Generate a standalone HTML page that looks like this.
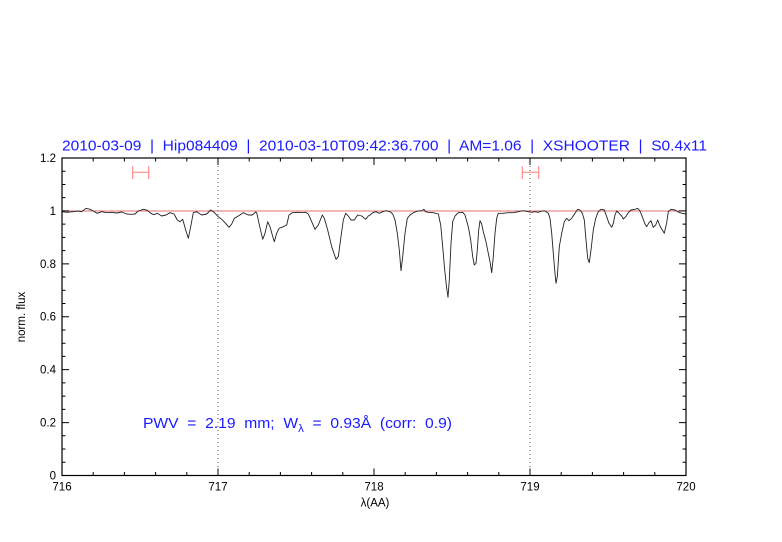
<!DOCTYPE html>
<html><head><meta charset="utf-8"><style>
html,body{margin:0;padding:0;background:#fff;}
svg{display:block;}
text{font-family:"Liberation Sans",sans-serif;}
.pre{white-space:pre;}
</style></head><body>
<svg width="782" height="542" viewBox="0 0 782 542" xmlns="http://www.w3.org/2000/svg" xml:space="preserve">
<rect width="782" height="542" fill="#fff"/>
<!-- title -->
<text class="pre" x="62" y="150.5" font-size="15" fill="#1a1aff" textLength="645" lengthAdjust="spacingAndGlyphs">2010-03-09  |  Hip084409  |  2010-03-10T09:42:36.700  |  AM=1.06  |  XSHOOTER  |  S0.4x11</text>
<!-- dotted lines -->
<line x1="218" y1="158" x2="218" y2="475.5" stroke="#444" stroke-width="0.9" stroke-dasharray="1,3"/>
<line x1="530" y1="158" x2="530" y2="475.5" stroke="#444" stroke-width="0.9" stroke-dasharray="1,3"/>
<!-- unity line -->
<line x1="62" y1="211" x2="686" y2="211" stroke="#e07070" stroke-width="1"/>
<!-- error bars -->
<g stroke="#ff8c8c" stroke-width="1.2" fill="none">
<path d="M132.7 172.3H148.7M132.7 166V179M148.7 166V179"/>
<path d="M522.3 172.3H538.7M522.3 166V179M538.7 166V179"/>
</g>
<!-- spectrum -->
<polyline fill="none" stroke="#222" stroke-width="0.9" stroke-linejoin="round" points="
62,211.7 66.7,212.3 73.3,211.7 78.3,211 81.7,211.7 86,208.3 90,209.3 93.3,211 97.3,213.3 101.7,211.7 106.7,212.7 111.7,212.3 116.7,213 121.7,212 126.7,214 131.7,214.3 135,214 138.3,211 143.3,209.3 147.3,210.3 150.7,213.3 154,214.7 157.3,213.3 161.7,216 166,215 170,212.7 174,214 177.3,220 180,221.7 182.7,219.3 185.7,230 188.3,238.3 190.7,226.7 193.3,212.7 196.7,211.7 201.7,215 206.7,214 210.7,210 214,212.3
218.3,216.7 221.7,219.3 225,222.7 229,227.3 231.7,224 234.3,218.3 238.3,216 243.3,212.7 248.3,215 252.3,215 255.7,212 256.7,212.7 259,223.3 262.7,239.3 265,233.3 267.7,221.7 270,226.7 272.3,235 274.3,241.7 276.7,233.3 279,228.3 283.3,226.7 286.7,225 289,215 292.3,212.7 298.3,212.3 302.3,212.7 305.7,212.3 308.3,214 311.7,221.7 315,229.3 318.3,225 322.3,215 324.3,218.3 327.7,230 331.7,246.7 336,259.3 338.3,256.7 341,236.7 343.3,220 345.7,213.3 348.3,216 351,220 354.3,220 357.7,215 361.7,216 365.7,219.3 368.3,216
370,215 372.7,212.7 376,211.7 379.3,213.3 382.7,211.7 386,210.7 390,211.7 392.7,214 395,220 397.3,233.3 399.3,250 401,270.7 402.7,256.7 405,233.3 407.3,218.3 410,215 413.3,212.7 418.3,211 421.7,210.7 424,209.3 425.3,211.7 428.3,212.3 433.3,212.7 438.3,214 440.7,225 442.7,246.7 444.7,270 446.7,288.3 448,297.3 449.3,280 451,243.3 452.7,221.7 455,216 458.3,212.7 462.7,212.3 465,215 468.3,226.7 470.7,240 472.7,256.7 474.3,265 476,263.3 477.3,250 478.7,230 480,220.7 481.7,224 483.3,231.7 486,241.7 488.3,253.3 490,261.7 491.7,272.7 493.3,256.7 495,233.3 496.7,218.3 498.3,213.3 503.3,213.3 508.3,212.7 513.3,212.7 518.3,211.7 523.3,210.7
525,211 528.3,211.7 531.7,212.3 535,211.7 538.3,212.3 541.7,211 545,211 548.3,213.3 550,218.3 551.7,233.3 553.3,253.3 555,273.3 556,283.3 557.3,276.7 559.3,246.7 561.7,233.3 564.3,221.7 566.7,218.3 569,220.7 571.7,218.3 575,213.3 577.7,209.3 580,210 582.3,213.3 584.3,220 586,240 587.7,258.3 589.3,262.7 591,250 593.3,230 595.7,218.3 598.3,211.7 601,209.3 604.3,210 606.7,216.7 609,223.3 611.7,227.3 613.3,223.3 615,215 616.7,211 619,213.3 621.7,216 623.3,219 625.7,216.7 628.3,212.7 631,210 635,209.3 637.7,208.3 640,211 642.3,216.7 645,224 646.7,226.7 649,222.7 651,220.7 653.3,227.3 655.7,225 657.7,220 660,226 662.3,230 664.3,233.3 666.7,222.7 668.3,211.7 671,209.3 675,210 677.7,211.7 680,212.7 682.3,213.3 686,214"/>
<!-- frame -->
<rect x="62" y="158" width="624" height="317.5" fill="none" stroke="#000" stroke-width="1.2"/>
<!-- ticks -->
<path stroke="#000" stroke-width="1" fill="none" d="
M62 475.5v-7M93.2 475.5v-3.5M124.4 475.5v-3.5M155.6 475.5v-3.5M186.8 475.5v-3.5M218 475.5v-7M249.2 475.5v-3.5M280.4 475.5v-3.5M311.6 475.5v-3.5M342.8 475.5v-3.5M374 475.5v-7M405.2 475.5v-3.5M436.4 475.5v-3.5M467.6 475.5v-3.5M498.8 475.5v-3.5M530 475.5v-7M561.2 475.5v-3.5M592.4 475.5v-3.5M623.6 475.5v-3.5M654.8 475.5v-3.5M686 475.5v-7
M62 158v7M93.2 158v3.5M124.4 158v3.5M155.6 158v3.5M186.8 158v3.5M218 158v7M249.2 158v3.5M280.4 158v3.5M311.6 158v3.5M342.8 158v3.5M374 158v7M405.2 158v3.5M436.4 158v3.5M467.6 158v3.5M498.8 158v3.5M530 158v7M561.2 158v3.5M592.4 158v3.5M623.6 158v3.5M654.8 158v3.5M686 158v7
M62 475.5h7M62 462.27h3.5M62 449.04h3.5M62 435.81h3.5M62 422.58h7M62 409.35h3.5M62 396.12h3.5M62 382.89h3.5M62 369.66h7M62 356.43h3.5M62 343.2h3.5M62 329.97h3.5M62 316.74h7M62 303.51h3.5M62 290.28h3.5M62 277.05h3.5M62 263.82h7M62 250.59h3.5M62 237.36h3.5M62 224.13h3.5M62 210.9h7M62 197.67h3.5M62 184.44h3.5M62 171.21h3.5M62 158h7
M686 475.5h-7M686 462.27h-3.5M686 449.04h-3.5M686 435.81h-3.5M686 422.58h-7M686 409.35h-3.5M686 396.12h-3.5M686 382.89h-3.5M686 369.66h-7M686 356.43h-3.5M686 343.2h-3.5M686 329.97h-3.5M686 316.74h-7M686 303.51h-3.5M686 290.28h-3.5M686 277.05h-3.5M686 263.82h-7M686 250.59h-3.5M686 237.36h-3.5M686 224.13h-3.5M686 210.9h-7M686 197.67h-3.5M686 184.44h-3.5M686 171.21h-3.5M686 158h-7"/>
<!-- y labels -->
<g font-size="11.5" fill="#000" text-anchor="end">
<text x="56" y="479.5">0</text>
<text x="56" y="426.6">0.2</text>
<text x="56" y="373.7">0.4</text>
<text x="56" y="320.7">0.6</text>
<text x="56" y="267.8">0.8</text>
<text x="56" y="214.9">1</text>
<text x="56" y="162">1.2</text>
</g>
<!-- x labels -->
<g font-size="11.5" fill="#000" text-anchor="middle">
<text x="62" y="490.5">716</text>
<text x="218" y="490.5">717</text>
<text x="374" y="490.5">718</text>
<text x="530" y="490.5">719</text>
<text x="686" y="490.5">720</text>
</g>
<text x="375" y="506.5" font-size="11.5" text-anchor="middle" fill="#000">λ(AA)</text>
<text transform="translate(25,317) rotate(-90)" font-size="11.5" text-anchor="middle" fill="#000">norm. flux</text>
<!-- PWV -->
<text class="pre" x="143" y="428" font-size="15" fill="#1a1aff" textLength="309" lengthAdjust="spacingAndGlyphs">PWV  =  2.19  mm;  W<tspan font-size="11" dy="4">λ</tspan><tspan dy="-4">  =  0.93Å  (corr:  0.9)</tspan></text>
</svg>
</body></html>
